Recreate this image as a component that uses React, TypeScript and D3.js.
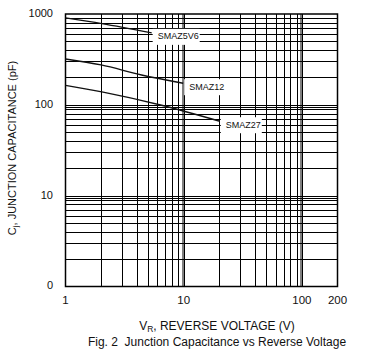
import React from "react";
import * as d3 from "d3";

const W = 372;
const H = 356;

// Data (reverse voltage V, capacitance pF)
const smaz5v6V = [1, 2.03, 5.36];
const smaz5v6C = [906, 784, 620];
const smaz12V = [1, 2, 4.4, 9.9];
const smaz12C = [320, 275, 213, 173];
const smaz27V = [1, 2.03, 6.5, 20.2];
const smaz27C = [164, 139, 99, 66];
const seriesNames = ["SMAZ5V6", "SMAZ12", "SMAZ27"];

const xTickValues = [1, 10, 100, 200];
const xTickLabels = ["1", "10", "100", "200"];
const yTickValues = [1, 10, 100, 1000];
const yTickLabels = ["0", "10", "100", "1000"];

const xGrid = [2, 3, 4, 5, 6, 7, 8, 9, 10, 20, 30, 40, 50, 60, 70, 80, 90, 100];
const yGrid = [2, 3, 4, 5, 6, 7, 8, 9, 10, 20, 30, 40, 50, 60, 70, 80, 90, 100, 200, 300, 400, 500, 600, 700, 800, 900];

const L = 65.5, R = 337.5, T = 14, B = 286.5;

export default function App() {
  const x = d3.scaleLog().domain([1, 200]).range([L, R]);
  const y = d3.scaleLog().domain([1, 1000]).range([B, T]);
  const line = d3
    .line<[number, number]>()
    .x((d) => x(d[0]))
    .y((d) => y(d[1]))
    .curve(d3.curveMonotoneX);
  const px = (v: number) => Math.round(v) + 0.5;

  const series = [
    { name: seriesNames[0], v: smaz5v6V, c: smaz5v6C, w: 47 },
    { name: seriesNames[1], v: smaz12V, c: smaz12C, w: 44 },
    { name: seriesNames[2], v: smaz27V, c: smaz27C, w: 41 },
  ];

  const font = "'Liberation Sans', Arial, sans-serif";
  const col = "#111";

  return (
    <svg
      width={W}
      height={H}
      style={{ position: "absolute", left: 0, top: 0, background: "#fff" }}
      fontFamily={font}
    >
      <rect x={0} y={0} width={W} height={H} fill="#fff" />
      {/* grid */}
      {xGrid.map((g) => (
        <line
          key={"gx" + g}
          x1={px(x(g))}
          x2={px(x(g))}
          y1={T}
          y2={B}
          stroke="#000"
          strokeWidth={1}
        />
      ))}
      {[10, 100].map((g) => (
        <line key={"gxd" + g} x1={px(x(g)) - 1.5} x2={px(x(g)) - 1.5} y1={T} y2={B} stroke="#000" strokeWidth={1} />
      ))}
      {yGrid.map((g) => (
        <line
          key={"gy" + g}
          x1={L}
          x2={R}
          y1={px(y(g))}
          y2={px(y(g))}
          stroke="#000"
          strokeWidth={1}
        />
      ))}
      {[10, 100].map((g) => (
        <line key={"gyd" + g} x1={L} x2={R} y1={px(y(g)) + 2} y2={px(y(g)) + 2} stroke="#000" strokeWidth={1} />
      ))}
      <rect x={L} y={T} width={R - L} height={B - T} fill="none" stroke="#000" strokeWidth={1.5} />

      {/* curves */}
      {series.map((s) => {
        const pts: [number, number][] = s.v.map((v, i) => [v, s.c[i]]);
        return (
          <path key={s.name} d={line(pts) || ""} fill="none" stroke="#111" strokeWidth={1.4} />
        );
      })}

      {/* labels */}
      {series.map((s) => {
        const ex = x(s.v[s.v.length - 1]);
        const ey = y(s.c[s.c.length - 1]);
        return (
          <g key={"lab" + s.name}>
            <rect x={ex + 1} y={ey - 4} width={s.w} height={16} fill="#fff" />
            <text
              x={ex + 6}
              y={ey + 4}
              fontSize={9}
              fill={col}
              dominantBaseline="middle"
            >
              {s.name}
            </text>
          </g>
        );
      })}

      {/* y tick labels */}
      {yTickValues.map((v, i) => (
        <text
          key={"yt" + v}
          x={53}
          y={y(v)}
          textAnchor="end"
          dominantBaseline="middle"
          fontSize={11}
          fill={col}
        >
          {yTickLabels[i]}
        </text>
      ))}
      {/* x tick labels */}
      {xTickValues.map((v, i) => (
        <text
          key={"xt" + v}
          x={x(v)}
          y={304}
          textAnchor="middle"
          fontSize={11.5}
          fill={col}
        >
          {xTickLabels[i]}
        </text>
      ))}

      {/* y title */}
      <text
        transform={`translate(16,148) rotate(-90)`}
        textAnchor="middle"
        fontSize={11}
        fill={col}
      >
        C
        <tspan fontSize={8} dy={2}>j</tspan>
        <tspan dy={-2}>, JUNCTION CAPACITANCE (pF)</tspan>
      </text>

      {/* x title */}
      <text x={217} y={330} textAnchor="middle" fontSize={12} fill={col}>
        V<tspan fontSize={8.5} dy={2}>R</tspan>
        <tspan dy={-2}>, REVERSE VOLTAGE (V)</tspan>
      </text>
      <text x={217} y={346} textAnchor="middle" fontSize={12} fill={col} style={{ whiteSpace: "pre" }}>
        {"Fig. 2  Junction Capacitance vs Reverse Voltage"}
      </text>
    </svg>
  );
}
